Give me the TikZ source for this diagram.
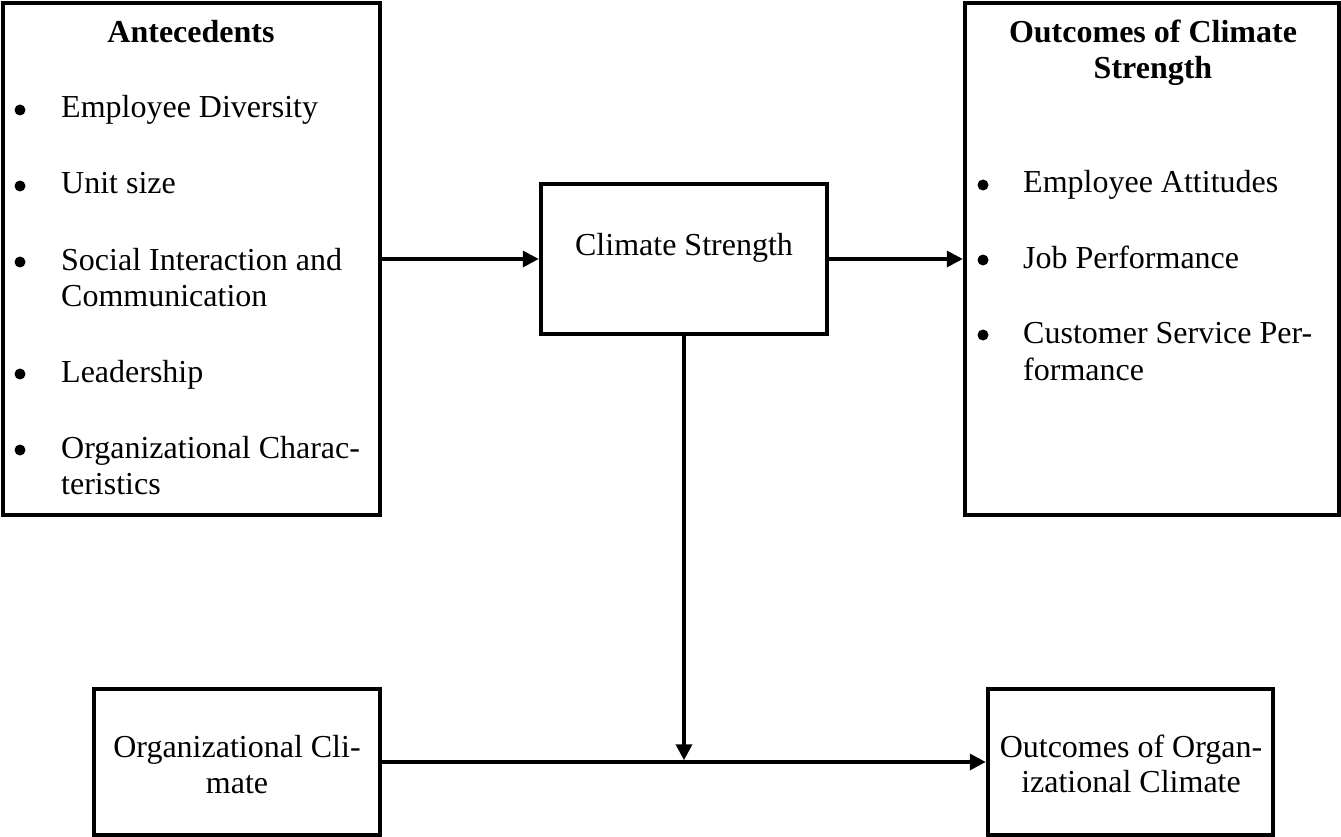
\documentclass[tikz,border=0pt]{standalone}
\usepackage{fontspec}
\setmainfont{Liberation Serif}
\usetikzlibrary{arrows.meta}
\begin{document}
\begin{tikzpicture}[x=1pt,y=-1pt,
  box/.style={draw, line width=4.5pt, inner sep=0pt},
  txt/.style={font=\fontsize{32}{36}\selectfont, inner sep=0pt, anchor=base west},
  ctr/.style={font=\fontsize{32}{36}\selectfont, inner sep=0pt, anchor=base},
  bul/.style={circle, fill, inner sep=0pt, minimum size=11pt},
  conn/.style={line width=3.5pt, -{Triangle[length=16pt,width=16pt]}}]
\useasboundingbox (0,0) rectangle (1341,837);
\fill[white] (0,0) rectangle (1341,837);

% boxes
\node[box, minimum width=377pt, minimum height=512pt] (A) at (191.5,259) {};
\node[box, minimum width=286pt, minimum height=150pt] (CS) at (684,259) {};
\node[box, minimum width=374pt, minimum height=512pt] (O) at (1152,259) {};
\node[box, minimum width=286pt, minimum height=146pt] (OC) at (237,762) {};
\node[box, minimum width=285pt, minimum height=146pt] (OO) at (1130.5,762) {};

% Antecedents
\node[ctr] (ah) at (191,43) {\textbf{Antecedents}};
\node[bul] (ab1) at (20,110) {};
\node[txt] (a1) at (61,118) {Employee Diversity};
\node[bul] (ab2) at (20,186) {};
\node[txt] (a2) at (61,194) {Unit size};
\node[bul] (ab3) at (20,262) {};
\node[txt] (a3) at (61,270) {Social Interaction and};
\node[txt] (a3b) at (61,306) {Communication};
\node[bul] (ab4) at (20,374) {};
\node[txt] (a4) at (61,382) {Leadership};
\node[bul] (ab5) at (20,450) {};
\node[txt] (a5) at (61,458) {Organizational Charac-};
\node[txt] (a5b) at (61,494) {teristics};

% Climate Strength
\node[ctr] (cst) at (684,255) {Climate Strength};

% Outcomes of Climate Strength
\node[ctr] (oh1) at (1153,43) {\textbf{Outcomes of Climate}};
\node[ctr] (oh2) at (1153,79) {\textbf{Strength}};
\node[bul] (ob1) at (983,185) {};
\node[txt] (o1) at (1023,193) {Employee Attitudes};
\node[bul] (ob2) at (983,260) {};
\node[txt] (o2) at (1023,268) {Job Performance};
\node[bul] (ob3) at (983,335) {};
\node[txt] (o3) at (1023,343) {Customer Service Per-};
\node[txt] (o3b) at (1023,380) {formance};

% Organizational Climate
\node[ctr] (oc1) at (237,757) {Organizational Cli-};
\node[ctr] (oc2) at (237,793) {mate};

% Outcomes of Organizational Climate
\node[ctr] (oo1) at (1131,757) {Outcomes of Organ-};
\node[ctr] (oo2) at (1131,792) {izational Climate};

% connectors
\coordinate (J) at (CS.south |- OC.east);
\draw[conn] (A.east |- CS.west) -- (CS.west);
\draw[conn] (CS.east) -- (O.west |- CS.east);
\draw[conn] (OC.east) -- (OO.west);
\draw[conn, shorten >=1.75pt] (CS.south) -- (J);
\end{tikzpicture}
\end{document}
